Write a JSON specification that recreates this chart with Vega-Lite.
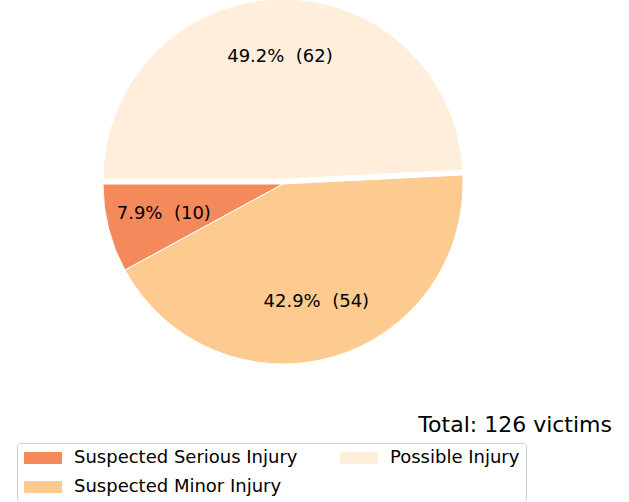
{
  "$schema": "https://vega.github.io/schema/vega-lite/v6.json",
  "width": 566,
  "height": 368,
  "autosize": "none",
  "padding": {"left": 0, "top": 0, "right": 63, "bottom": 134},
  "background": "white",
  "config": {"view": {"stroke": null}, "font": "DejaVu Sans"},
  "title": {
    "text": "Total: 126 victims",
    "orient": "top",
    "anchor": "end",
    "frame": "group",
    "offset": 0,
    "dx": 46,
    "dy": 440,
    "fontSize": 22,
    "fontWeight": "normal",
    "font": "DejaVu Sans",
    "color": "#000000"
  },
  "data": {
    "values": [
      {"category": "Suspected Serious Injury", "count": 10, "order": 1, "label": "7.9%\u00a0 (10)"},
      {"category": "Suspected Minor Injury", "count": 54, "order": 2, "label": "42.9%\u00a0 (54)"},
      {"category": "Possible Injury", "count": 62, "order": 3, "label": "49.2%\u00a0 (62)"}
    ]
  },
  "encoding": {
    "theta": {
      "field": "count",
      "type": "quantitative",
      "stack": true,
      "scale": {"domain": [0, 126], "range": [4.71238898, -1.57079633]}
    },
    "order": {"field": "order", "type": "quantitative"},
    "color": {
      "field": "category",
      "type": "nominal",
      "scale": {
        "domain": ["Suspected Serious Injury", "Suspected Minor Injury", "Possible Injury"],
        "range": ["#f4895b", "#fdca8f", "#feeedb"]
      },
      "legend": {
        "orient": "none",
        "legendX": 17,
        "legendY": 443,
        "title": null,
        "columns": 2,
        "columnPadding": 41,
        "rowPadding": 11,
        "padding": 6,
        "strokeColor": "#d0d0d0",
        "fillColor": "white",
        "cornerRadius": 3,
        "symbolType": "M-1,-0.75H3.75V0.75H-1Z",
        "symbolSize": 256,
        "symbolStrokeWidth": 0,
        "symbolOpacity": 1,
        "labelFontSize": 18,
        "labelFont": "DejaVu Sans",
        "labelColor": "#000000",
        "labelOffset": 33,
        "labelLimit": 400
      }
    }
  },
  "layer": [
    {
      "mark": {"type": "arc", "outerRadius": 180, "stroke": "white", "strokeWidth": 1},
      "encoding": {
        "opacity": {"condition": {"test": "datum.category === 'Possible Injury'", "value": 0}, "value": 1}
      }
    },
    {
      "mark": {"type": "arc", "outerRadius": 180, "stroke": "white", "strokeWidth": 1, "yOffset": -5},
      "encoding": {
        "opacity": {"condition": {"test": "datum.category === 'Possible Injury'", "value": 1}, "value": 0}
      }
    },
    {
      "mark": {"type": "text", "radius": 123, "fontSize": 18, "font": "DejaVu Sans"},
      "encoding": {
        "text": {"field": "label"},
        "color": {"value": "#000000"},
        "opacity": {"condition": {"test": "datum.category === 'Possible Injury'", "value": 0}, "value": 1}
      }
    },
    {
      "mark": {"type": "text", "radius": 122, "fontSize": 18, "font": "DejaVu Sans", "yOffset": -5},
      "encoding": {
        "text": {"field": "label"},
        "color": {"value": "#000000"},
        "opacity": {"condition": {"test": "datum.category === 'Possible Injury'", "value": 1}, "value": 0}
      }
    }
  ]
}
